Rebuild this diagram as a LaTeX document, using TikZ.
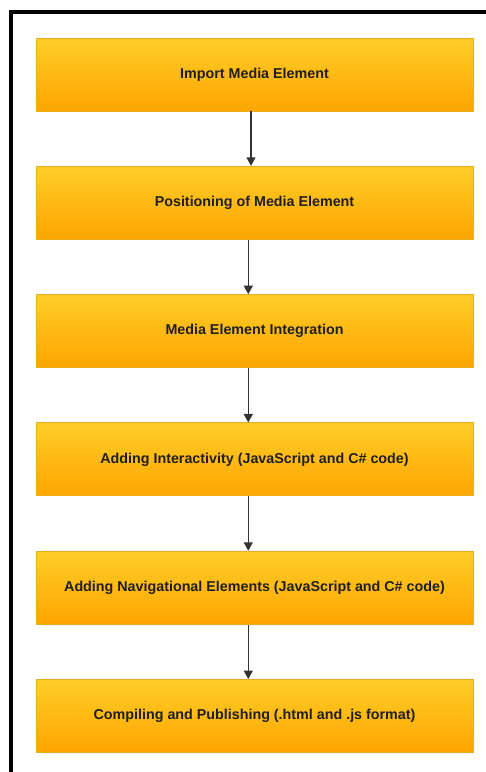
\documentclass[tikz,border=0pt]{standalone}
\usepackage{fontspec}
\setmainfont{Liberation Sans}
\usetikzlibrary{arrows.meta}
\definecolor{boxtop}{HTML}{FFCD28}
\definecolor{boxbot}{HTML}{FFA500}
\definecolor{boxline}{HTML}{E8B020}
\definecolor{arrline}{HTML}{333333}
\tikzset{
  stepbox/.style={rectangle, draw=boxline, line width=0.9pt, top color=boxtop, bottom color=boxbot,
    minimum width=437pt, minimum height=73pt, inner sep=0pt,
    font=\fontsize{14.3}{16}\selectfont\bfseries, text=black!88},
  flow/.style={draw=arrline, line width=1.3pt, -{Triangle[length=8.5pt,width=9pt]}},
  frame/.style={line width=4pt, draw=black}
}
\begin{document}
\begin{tikzpicture}[x=1pt,y=-1pt]
\useasboundingbox (0,0) rectangle (486,772);
\clip (0,0) rectangle (486,772);
\draw[frame] (11,800) -- (11,12) -- (500,12);
\node[stepbox] (s1) at (254.5,74.5) {Import Media Element};
\node[stepbox] (s2) at (254.5,202.8) {Positioning of Media Element};
\node[stepbox] (s3) at (254.5,331.1) {Media Element Integration};
\node[stepbox] (s4) at (254.5,459.4) {Adding Interactivity (JavaScript and C\# code)};
\node[stepbox] (s5) at (254.5,587.7) {Adding Navigational Elements (JavaScript and C\# code)};
\node[stepbox] (s6) at (254.5,716) {Compiling and Publishing (.html and .js format)};
\draw[flow] ([xshift=-3.5pt]s1.south) -- ([xshift=-3.5pt]s2.north);
\draw[flow] ([xshift=-6.2pt]s2.south) -- ([xshift=-6.2pt]s3.north);
\draw[flow] ([xshift=-6.2pt]s3.south) -- ([xshift=-6.2pt]s4.north);
\draw[flow] ([xshift=-6.2pt]s4.south) -- ([xshift=-6.2pt]s5.north);
\draw[flow] ([xshift=-6.2pt]s5.south) -- ([xshift=-6.2pt]s6.north);
\end{tikzpicture}
\end{document}
